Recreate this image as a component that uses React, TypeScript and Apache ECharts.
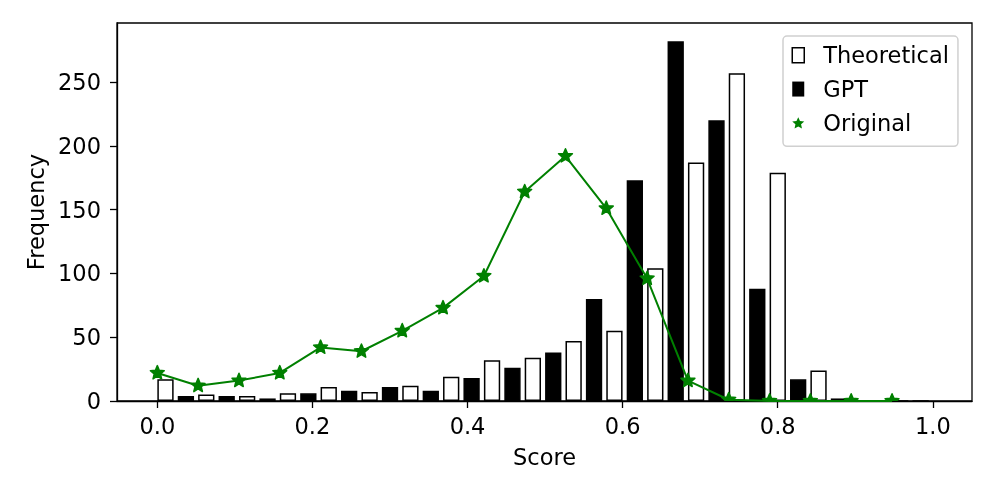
import React, { useEffect, useRef } from "react";
import * as echarts from "echarts";

// ---- data ----
const scoreBins = [0.0, 0.0526, 0.1053, 0.1579, 0.2105, 0.2632, 0.3158, 0.3684, 0.4211, 0.4737, 0.5263, 0.5789, 0.6316, 0.6842, 0.7368, 0.7895, 0.8421, 0.8947, 0.9474];
const theoretical = [17, 5, 4, 6, 11, 7, 12, 19, 32, 34, 47, 55, 104, 187, 257, 179, 24, 0, 0];
const gpt = [4, 4, 2, 6, 8, 11, 8, 18, 26, 38, 80, 173, 282, 220, 88, 17, 2, 0, 0];
const original = [22, 12, 16, 22, 42, 39, 55, 73, 98, 164, 192, 151, 96, 16, 1, 0, 0, 0, 0];
const xTicks = [0.0, 0.2, 0.4, 0.6, 0.8, 1.0];
const yTicks = [0, 50, 100, 150, 200, 250];

const FONT = "DejaVu Sans";
const FS = 22.5;
const BIN_W = 0.05263;
const GREEN = "#008000";

function star(cx: number, cy: number, R: number, ratio = 0.45): number[][] {
  const pts: number[][] = [];
  for (let k = 0; k < 10; k++) {
    const r = k % 2 === 0 ? R : R * ratio;
    const a = -Math.PI / 2 + (k * Math.PI) / 5;
    pts.push([cx + r * Math.cos(a), cy + r * Math.sin(a)]);
  }
  return pts;
}
const starPath =
  "path://" +
  star(10, 10, 10, 0.47)
    .map((p, i) => (i ? "L" : "M") + p[0].toFixed(2) + " " + p[1].toFixed(2))
    .join(" ") +
  "Z";

export default function App() {
  const ref = useRef<HTMLDivElement>(null);
  useEffect(() => {
    if (!ref.current) return;
    const chart = echarts.init(ref.current, null, { renderer: "svg" });
    const lineData = scoreBins.map((x, i) => [x, original[i]]);
    chart.setOption({
      animation: false,
      textStyle: { fontFamily: FONT },
      grid: {
        left: 117,
        right: 25,
        top: 23,
        bottom: 97,
        show: true,
        borderColor: "#000",
        borderWidth: 1.3,
        backgroundColor: "transparent",
      },
      xAxis: {
        type: "value",
        min: -0.052,
        max: 1.0505,
        name: "Score",
        nameLocation: "middle",
        nameGap: 44,
        nameTextStyle: { fontSize: FS, color: "#000", fontFamily: FONT },
        axisLine: { show: true, onZero: false, lineStyle: { color: "#000", width: 1.3 } },
        axisTick: { show: true, length: 7, inside: false, customValues: xTicks, lineStyle: { color: "#000", width: 1.3 } },
        axisLabel: {
          customValues: xTicks,
          formatter: (v: number) => v.toFixed(1),
          fontSize: FS,
          color: "#000",
          fontFamily: FONT,
          margin: 13,
        },
        splitLine: { show: false },
      },
      yAxis: {
        type: "value",
        min: 0,
        max: 296.3,
        name: "Frequency",
        nameLocation: "middle",
        nameGap: 70,
        nameTextStyle: { fontSize: FS, color: "#000", fontFamily: FONT },
        axisLine: { show: true, onZero: false, lineStyle: { color: "#000", width: 1.3 } },
        axisTick: { show: true, length: 7, inside: false, customValues: yTicks, lineStyle: { color: "#000", width: 1.3 } },
        axisLabel: {
          customValues: yTicks,
          fontSize: FS,
          color: "#000",
          fontFamily: FONT,
          margin: 16,
        },
        splitLine: { show: false },
      },
      legend: {
        orient: "vertical",
        left: 783,
        top: 36,
        padding: [7.75, 9, 12, 8.5],
        itemWidth: 12,
        itemHeight: 15,
        itemGap: 10.8,
        selectedMode: false,
        backgroundColor: "#fff",
        borderColor: "#d0d0d0",
        borderWidth: 1.5,
        borderRadius: 4,
        textStyle: { fontSize: FS, color: "#000", fontFamily: FONT, lineHeight: FS, padding: [0, 0, 0, 14] },
        data: [
          { name: "Theoretical", icon: "rect", itemStyle: { color: "#fff", borderColor: "#000", borderWidth: 1.5 } },
          { name: "GPT", icon: "rect", itemStyle: { color: "#000", borderColor: "#000", borderWidth: 0 } },
          { name: "Original", icon: starPath, itemStyle: { color: GREEN, borderWidth: 0 } },
        ],
      },
      series: [
        {
          name: "Theoretical",
          type: "bar",
          barWidth: 16.3,
          barGap: "-100%",
          data: scoreBins.map((x, i) => [x + 0.2 * BIN_W, theoretical[i]]),
          itemStyle: { color: "#fff", borderColor: "#000", borderWidth: 1.5 },
        },
        {
          name: "GPT",
          type: "bar",
          barWidth: 16.3,
          barGap: "-100%",
          data: scoreBins.map((x, i) => [x + 0.7 * BIN_W, gpt[i]]),
          itemStyle: { color: "#000", borderColor: "#000", borderWidth: 1.5 },
        },
        {
          name: "Original",
          type: "line",
          data: lineData,
          symbol: "none",
          z: 3,
          lineStyle: { color: GREEN, width: 2 },
          itemStyle: { color: GREEN },
        },
        {
          name: "Original",
          type: "custom",
          clip: true,
          z: 4,
          data: lineData,
          encode: { x: 0, y: 1 },
          itemStyle: { color: GREEN },
          renderItem: (_params: any, api: any) => {
            const p = api.coord([api.value(0), api.value(1)]);
            return {
              type: "polygon",
              shape: { points: star(p[0], p[1], 7.3) },
              style: { fill: GREEN, stroke: GREEN, lineWidth: 1.5, lineJoin: "round" },
            };
          },
        },
      ],
    });
    return () => chart.dispose();
  }, []);
  return <div ref={ref} style={{ position: "fixed", left: 0, top: 0, width: 997, height: 498 }} />;
}
